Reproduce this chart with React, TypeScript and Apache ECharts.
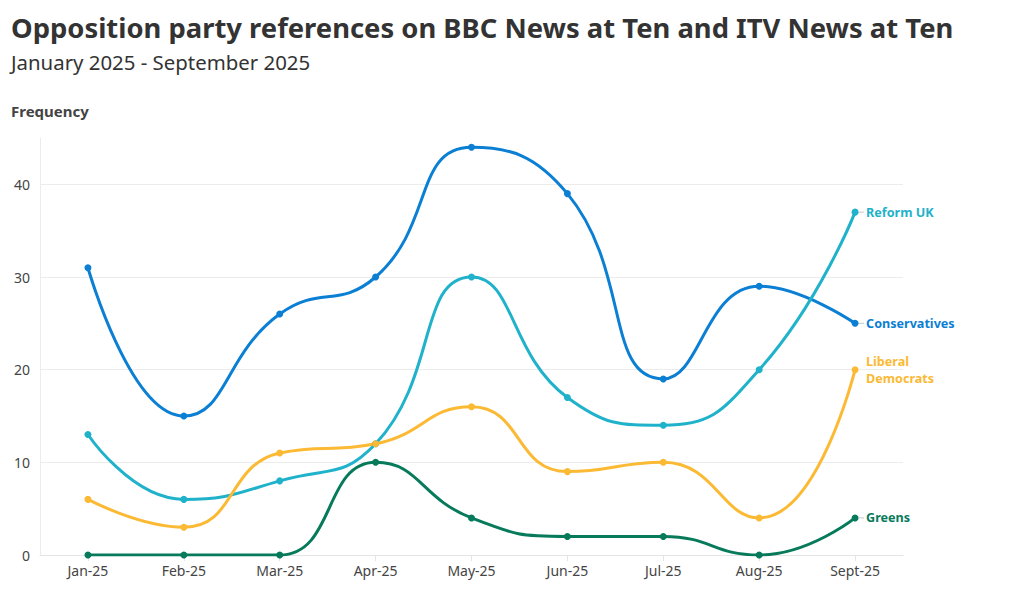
import React, { useEffect, useRef } from "react";
import * as echarts from "echarts";

const months = ["Jan-25", "Feb-25", "Mar-25", "Apr-25", "May-25", "Jun-25", "Jul-25", "Aug-25", "Sept-25"];
const conservatives = [31, 15, 26, 30, 44, 39, 19, 29, 25];
const reformUK = [13, 6, 8, 12, 30, 17, 14, 20, 37];
const libDems = [6, 3, 11, 12, 16, 9, 10, 4, 20];
const greens = [0, 0, 0, 10, 4, 2, 2, 0, 4];
const yTicks = [0, 10, 20, 30, 40];

const FONT = "'Noto Sans', 'Open Sans', sans-serif";

const seriesDefs = [
  { name: "Conservatives", label: "Conservatives", data: conservatives, color: "#0b7fd3" },
  { name: "Reform UK", label: "Reform UK", data: reformUK, color: "#1fb2ca" },
  { name: "Liberal Democrats", label: "Liberal\nDemocrats", data: libDems, color: "#fbb934" },
  { name: "Greens", label: "Greens", data: greens, color: "#067a5a" },
];

export default function App() {
  const ref = useRef<HTMLDivElement>(null);
  useEffect(() => {
    if (!ref.current) return;
    const chart = echarts.init(ref.current, undefined, { renderer: "svg" });
    chart.setOption({
      animation: false,
      backgroundColor: "#ffffff",
      textStyle: { fontFamily: FONT },
      title: [
        {
          text: "Opposition party references on BBC News at Ten and ITV News at Ten",
          left: 6,
          top: 9,
          textStyle: { fontFamily: FONT, fontSize: 27.4, fontWeight: "bold", color: "#333333" },
        },
        {
          text: "January 2025 - September 2025",
          left: 6,
          top: 47,
          textStyle: { fontFamily: FONT, fontSize: 20.4, fontWeight: "normal", color: "#333333" },
        },
        {
          text: "Frequency",
          left: 6,
          top: 98,
          textStyle: { fontFamily: FONT, fontSize: 15, fontWeight: "bold", color: "#444444" },
        },
      ],
      grid: { left: 40, right: 117, top: 138, bottom: 35, containLabel: false },
      xAxis: {
        type: "category",
        data: months,
        boundaryGap: true,
        axisLine: { show: true, lineStyle: { color: "#e4e4e4" } },
        axisTick: { show: true, alignWithLabel: true, length: 6, lineStyle: { color: "#e4e4e4" } },
        axisLabel: { color: "#444444", fontSize: 14, fontFamily: FONT, margin: 8 },
      },
      yAxis: {
        type: "value",
        min: 0,
        max: 45,
        interval: 10,
        axisLine: { show: true, lineStyle: { color: "#ececec" } },
        axisTick: { show: false },
        splitLine: { show: true, showMaxLine: false, lineStyle: { color: "#ececec" } },
        axisLabel: {
          color: "#444444",
          fontSize: 14,
          fontFamily: FONT,
          margin: 10,
          showMaxLabel: false,
          formatter: (v: number) => (yTicks.includes(v) ? String(v) : ""),
        },
      },
      series: seriesDefs.map((s) => ({
        name: s.name,
        type: "line",
        data: s.data,
        smooth: 0.5,
        symbol: "circle",
        symbolSize: 7,
        lineStyle: { width: 3, color: s.color },
        itemStyle: { color: s.color },
        endLabel: {
          show: true,
          formatter: s.label.includes("\n") ? "{t|" + s.label.replace("\n", "}\n{t|") + "}" : "{d|}{t|" + s.label + "}",
          distance: 4,
          rich: {
            d: { width: 5, height: 1, backgroundColor: "#c8c8c8" },
            t: {
              color: s.color,
              fontSize: 12.6,
              fontWeight: "bold",
              fontFamily: FONT,
              lineHeight: 17,
              padding: [0, 0, 0, s.label.includes("\n") ? 7 : 2],
            },
          },
        },
      })),
    });
    return () => chart.dispose();
  }, []);
  return (
    <div
      ref={ref}
      style={{ position: "fixed", left: 0, top: 0, width: 1020, height: 590, background: "#fff" }}
    />
  );
}
